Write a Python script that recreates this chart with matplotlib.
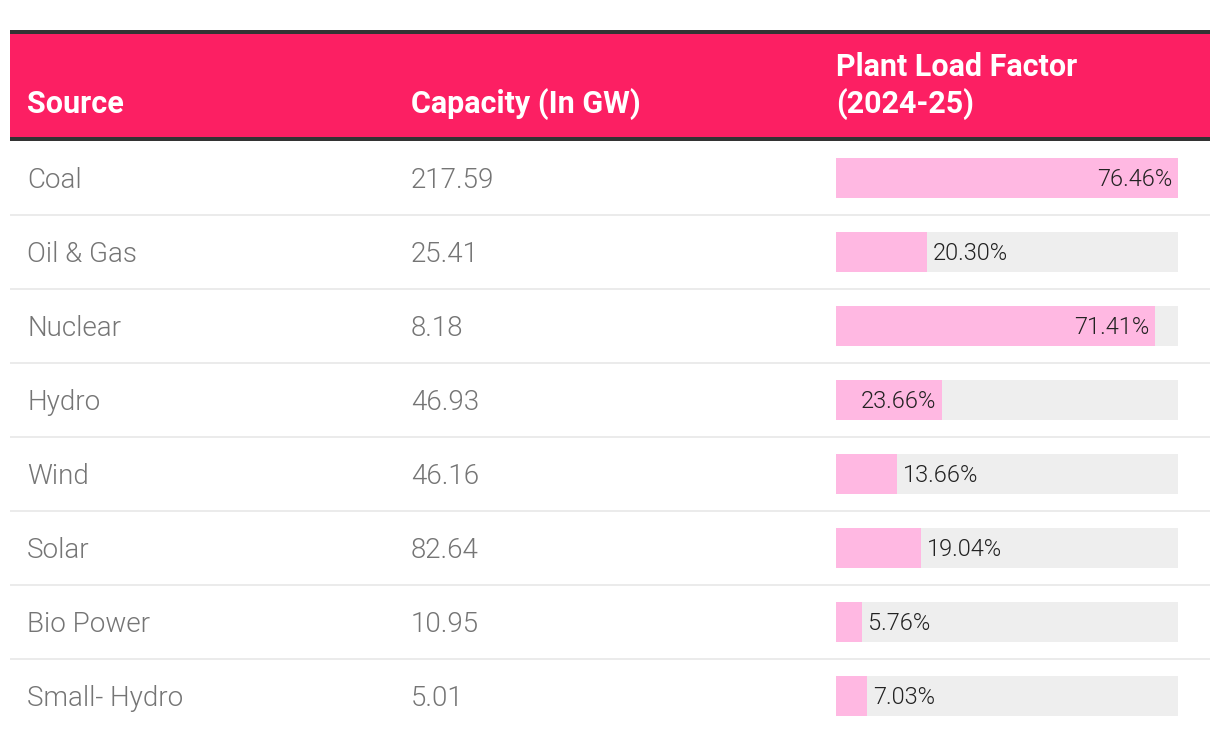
import matplotlib
matplotlib.use("Agg")
import matplotlib.pyplot as plt
from matplotlib.patches import Rectangle

sources = ["Coal", "Oil & Gas", "Nuclear", "Hydro", "Wind", "Solar", "Bio Power", "Small- Hydro"]
capacity = ["217.59", "25.41", "8.18", "46.93", "46.16", "82.64", "10.95", "5.01"]
plf = [76.46, 20.30, 71.41, 23.66, 13.66, 19.04, 5.76, 7.03]
headers = [["Source"], ["Capacity (In GW)"], ["Plant Load Factor", "(2024-25)"]]

plt.rcParams['font.family'] = ['Roboto', 'DejaVu Sans']

W, H = 1220, 742
fig = plt.figure(figsize=(W / 100, H / 100), dpi=100)
ax = fig.add_axes([0, 0, 1, 1])
ax.set_xlim(0, W)
ax.set_ylim(H, 0)
ax.axis('off')

L, R = 10, 1210
col_x = [27, 411, 836]
# header
ax.add_patch(Rectangle((L, 30), R - L, 4, color='#333333', lw=0))
ax.add_patch(Rectangle((L, 34), R - L, 103, color='#FC1F63', lw=0))
ax.add_patch(Rectangle((L, 137), R - L, 4, color='#333333', lw=0))
for x, lines in zip(col_x, headers):
    n = len(lines)
    for j, h in enumerate(lines):
        ax.text(x, 113 - 37 * (n - 1 - j), h, color='white', fontsize=22,
                fontweight='bold', ha='left', va='baseline')

row_h = 74
top = 141
bar_l, bar_w_full, bar_h = 836, 342, 40
vmax = max(plf)
for i, (s, c, p) in enumerate(zip(sources, capacity, plf)):
    yc = top + row_h * i + 37
    if i > 0:
        ax.add_patch(Rectangle((L, top + row_h * i - 1), R - L, 2, color='#EBEBEB', lw=0))
    ax.text(col_x[0], yc + 10, s, color='#757575', fontsize=20, fontweight=300,
            ha='left', va='baseline')
    ax.text(col_x[1], yc + 10, c, color='#757575', fontsize=20, fontweight=300,
            ha='left', va='baseline')
    ax.add_patch(Rectangle((bar_l, yc - bar_h / 2), bar_w_full, bar_h, color='#EEEEEE', lw=0))
    bw = p / vmax * bar_w_full
    ax.add_patch(Rectangle((bar_l, yc - bar_h / 2), bw, bar_h, color='#FFB8E2', lw=0))
    lab = f"{p:.2f}%"
    if bw > 100:
        ax.text(bar_l + bw - 6, yc + 8, lab, color='#222222', fontsize=17, fontweight=300,
                ha='right', va='baseline')
    else:
        ax.text(bar_l + bw + 6, yc + 8, lab, color='#222222', fontsize=17, fontweight=300,
                ha='left', va='baseline')

fig.savefig("out.png", dpi=100, facecolor='white')
